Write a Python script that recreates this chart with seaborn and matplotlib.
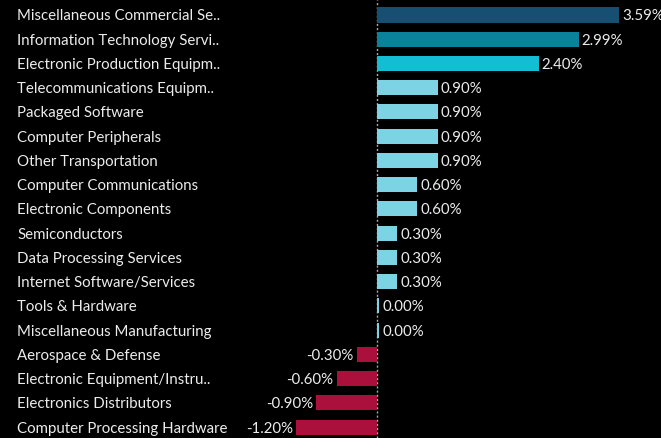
import matplotlib
matplotlib.use("Agg")
import matplotlib.pyplot as plt
import seaborn as sns
import pandas as pd

categories = [
    "Miscellaneous Commercial Se..",
    "Information Technology Servi..",
    "Electronic Production Equipm..",
    "Telecommunications Equipm..",
    "Packaged Software",
    "Computer Peripherals",
    "Other Transportation",
    "Computer Communications",
    "Electronic Components",
    "Semiconductors",
    "Data Processing Services",
    "Internet Software/Services",
    "Tools & Hardware",
    "Miscellaneous Manufacturing",
    "Aerospace & Defense",
    "Electronic Equipment/Instru..",
    "Electronics Distributors",
    "Computer Processing Hardware",
]
values = [3.59, 2.99, 2.40, 0.90, 0.90, 0.90, 0.90, 0.60, 0.60, 0.30, 0.30, 0.30,
          0.00, 0.00, -0.30, -0.60, -0.90, -1.20]
colors = ["#164f72", "#0a829b", "#13bdd3"] + ["#7bd3e3"] * 11 + ["#ab0f3b"] * 4

df = pd.DataFrame({"category": categories, "value": values})

sns.set_style("dark")
plt.rcParams["font.family"] = ["Lato", "DejaVu Sans"]

W, H = 661, 438
fig = plt.figure(figsize=(W / 100, H / 100), dpi=100, facecolor="black")
ax = fig.add_axes([0, 0, 1, 1])
ax.set_facecolor("black")

sns.barplot(data=df, x="value", y="category", hue="category", palette=colors,
            legend=False, width=0.62, ax=ax, orient="h", saturation=1,
            linewidth=0, edgecolor="none")

# zero-value slivers
for i, v in enumerate(values):
    if v == 0:
        ax.barh(i, 0.03, height=0.62, color=colors[i], left=0, linewidth=0)

zero_px = 377
scale = 67.4
ax.set_xlim(-zero_px / scale, (W - zero_px) / scale)
ax.set_ylim((H - 15) / 24.24, -15 / 24.24)
ax.axvline(0, color="#aaaaaa", linestyle=(0, (1.5, 1.5)), lw=1, zorder=0)

txt = "#ececec"
fs = 10.8
dy = 0.06
for i, (c, v) in enumerate(zip(categories, values)):
    ax.text(17 / W, i + dy, c, transform=ax.get_yaxis_transform(), ha="left",
            va="center", color=txt, fontsize=fs)
    lab = f"{v:.2f}%"
    off = 3 / scale
    if v > 0:
        ax.text(v + off, i + dy, lab, ha="left", va="center", color=txt, fontsize=fs)
    elif v < 0:
        ax.text(v - off, i + dy, lab, ha="right", va="center", color=txt, fontsize=fs)
    else:
        ax.text(0.03 + off, i + dy, lab, ha="left", va="center", color=txt, fontsize=fs)

ax.set_xticks([])
ax.set_yticks([])
ax.set_xlabel("")
ax.set_ylabel("")
for s in ax.spines.values():
    s.set_visible(False)
ax.grid(False)

fig.savefig("out.png", dpi=100, facecolor="black")
